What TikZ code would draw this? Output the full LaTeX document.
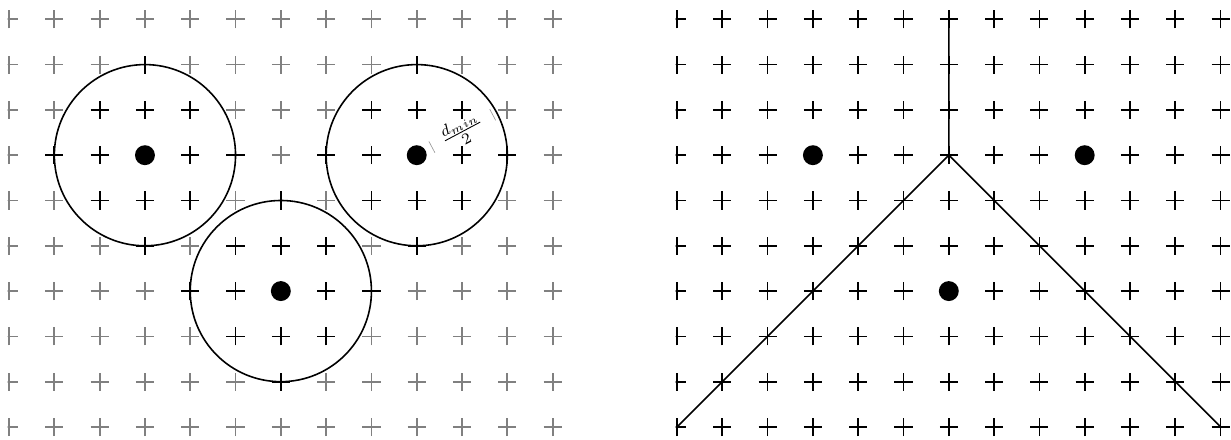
\documentclass[tikz,border=0pt]{standalone}
\usepackage{amsmath,amssymb}
\usepackage{tikz}
\usepackage{xcolor}
\definecolor{gridgray}{RGB}{128,128,128}
\definecolor{tickgray}{RGB}{150,150,150}

\begin{document}
\begin{tikzpicture}[x=1cm, y=1cm,
    plusmark/.style={line width=1.1pt},
    ring/.style={line width=1pt},
    bisector/.style={line width=1pt},
    dimtick/.style={tickgray, line width=0.4pt}]
    \useasboundingbox (-0.2,-0.287) rectangle (26.976,9.426);
    \begin{scope}
      \clip (-0.03,-0.3) rectangle (12.3,9.5);
      \foreach \i in {0,...,12}
        \foreach \j in {0,...,9} {
          \pgfmathsetmacro{\dsq}{min((\i-3)^2+(\j-6)^2,(\i-9)^2+(\j-6)^2,(\i-6)^2+(\j-3)^2)}
          \ifdim\dsq pt<4.01pt \def\pcol{black}\else\def\pcol{gridgray}\fi
          \draw[plusmark, color=\pcol] (\i-0.2,\j) -- (\i+0.2,\j) (\i,\j-0.2) -- (\i,\j+0.2);
        }
      \foreach \c in {(3,6),(9,6),(6,3)} {
        \draw[ring] \c circle (2);
        \fill \c circle (0.22);
      }
    \end{scope}
    \begin{scope}[shift={(9,6)}, rotate=28]
      \draw[dimtick] (0.38,-0.14) -- (0.38,0.14) (1.9,-0.14) -- (1.9,0.14);
      \node[rotate=28, scale=1.4, inner sep=0pt] (dlabel) at (1.14,0) {$\frac{d_{min}}{2}$};
    \end{scope}
    \begin{scope}[shift={(14.746,0)}]
      \clip (-0.03,-0.3) rectangle (12.3,9.5);
      \foreach \i in {0,...,12}
        \foreach \j in {0,...,9}
          \draw[plusmark] (\i-0.2,\j) -- (\i+0.2,\j) (\i,\j-0.2) -- (\i,\j+0.2);
      \draw[bisector] (6,9) -- (6,6) -- (0,0);
      \draw[bisector] (6,6) -- (12,0);
      \foreach \c in {(3,6),(9,6),(6,3)}
        \fill \c circle (0.22);
    \end{scope}
  \end{tikzpicture}
\end{document}
